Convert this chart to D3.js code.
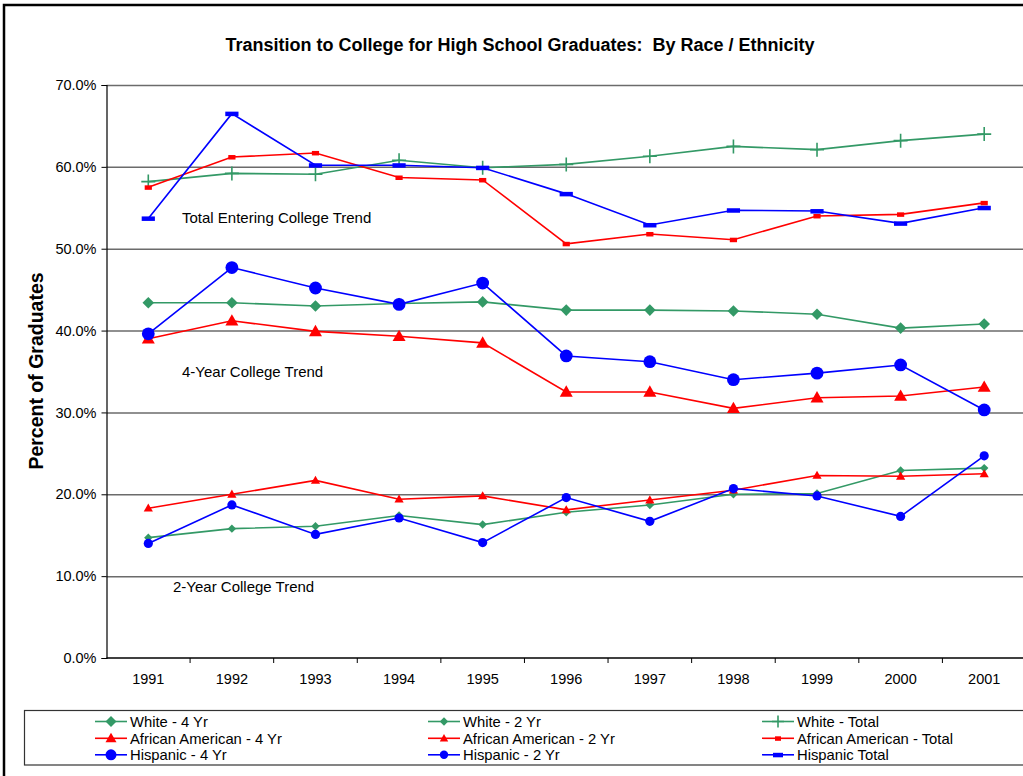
<!DOCTYPE html>
<html>
<head>
<meta charset="utf-8">
<script src="https://cdn.jsdelivr.net/npm/d3@7"></script>
<style>
  html, body { margin: 0; padding: 0; background: #fff; }
  svg { display: block; font-family: "Liberation Sans", Arial, sans-serif; }
</style>
</head>
<body>
<svg id="chart" width="1023" height="776"></svg>
<script>
// Categories and series values (percent of graduates)
const years = ["1991","1992","1993","1994","1995","1996","1997","1998","1999","2000","2001"];

const white4 = [43.4, 43.4, 43.0, 43.3, 43.5, 42.5, 42.5, 42.4, 42.0, 40.3, 40.8];
const white2 = [14.7, 15.8, 16.1, 17.4, 16.3, 17.8, 18.7, 20.0, 20.1, 22.9, 23.2];
const whiteTotal = [58.2, 59.2, 59.1, 60.8, 59.9, 60.3, 61.3, 62.5, 62.1, 63.2, 64.0];
const afam4 = [39.0, 41.2, 39.9, 39.3, 38.5, 32.5, 32.5, 30.5, 31.8, 32.0, 33.1];
const afam2 = [18.3, 20.0, 21.7, 19.4, 19.8, 18.1, 19.3, 20.5, 22.3, 22.2, 22.5];
const afamTotal = [57.5, 61.2, 61.7, 58.7, 58.4, 50.6, 51.8, 51.1, 54.0, 54.2, 55.6];
const hisp4 = [39.6, 47.7, 45.2, 43.2, 45.8, 36.9, 36.2, 34.0, 34.8, 35.8, 30.3];
const hisp2 = [14.0, 18.7, 15.1, 17.1, 14.1, 19.6, 16.7, 20.7, 19.8, 17.3, 24.7];
const hispTotal = [53.7, 66.5, 60.2, 60.2, 59.9, 56.7, 52.9, 54.7, 54.6, 53.1, 55.0];

const yTicks = [0, 10, 20, 30, 40, 50, 60, 70];

const seriesNames = [
  "White - 4 Yr", "White - 2 Yr", "White - Total",
  "African American - 4 Yr", "African American - 2 Yr", "African American - Total",
  "Hispanic - 4 Yr", "Hispanic - 2 Yr", "Hispanic Total"
];

const GREEN = "#339966", RED = "#ff0000", BLUE = "#0000ff";

const series = [
  { name: seriesNames[0], values: white4,     color: GREEN, marker: "diamond",  size: 5.8 },
  { name: seriesNames[1], values: white2,     color: GREEN, marker: "diamond",  size: 4.2 },
  { name: seriesNames[2], values: whiteTotal, color: GREEN, marker: "plus",     size: 7 },
  { name: seriesNames[3], values: afam4,      color: RED,   marker: "triangle", size: 6.5 },
  { name: seriesNames[4], values: afam2,      color: RED,   marker: "triangle", size: 4.6 },
  { name: seriesNames[5], values: afamTotal,  color: RED,   marker: "rect",     size: 3.6 },
  { name: seriesNames[6], values: hisp4,      color: BLUE,  marker: "circle",   size: 6.4 },
  { name: seriesNames[7], values: hisp2,      color: BLUE,  marker: "circle",   size: 4.6 },
  { name: seriesNames[8], values: hispTotal,  color: BLUE,  marker: "rect",     size: 6.6 }
];

const svg = d3.select("#chart");

// Chart frame
svg.append("rect")
  .attr("x", 4).attr("y", 5).attr("width", 1100).attr("height", 900)
  .attr("fill", "none").attr("stroke", "#000").attr("stroke-width", 2.5);

const plot = { left: 106.5, right: 1026, top: 85, bottom: 658 };

const x = d3.scaleBand().domain(years).range([plot.left, plot.right]).padding(0);
const y = d3.scaleLinear().domain([0, 70]).range([plot.bottom, plot.top]);
const cx = d => x(d) + x.bandwidth() / 2;

// Title
svg.append("text")
  .attr("x", 520).attr("y", 51)
  .attr("text-anchor", "middle")
  .attr("font-size", 18).attr("font-weight", "bold")
  .attr("fill", "#000")
  .style("white-space", "pre")
  .text("Transition to College for High School Graduates:  By Race / Ethnicity");

// Horizontal gridlines
svg.append("g")
  .attr("transform", `translate(${plot.left},0)`)
  .call(d3.axisLeft(y).tickValues(yTicks.slice(1)).tickSize(-(plot.right - plot.left)).tickFormat(""))
  .call(g => g.select(".domain").remove())
  .call(g => g.selectAll("line").attr("stroke", "#6b6b6b").attr("stroke-width", 1.5));

// Y axis
svg.append("g")
  .attr("transform", `translate(${plot.left},0)`)
  .call(d3.axisLeft(y).tickValues(yTicks).tickSize(5).tickPadding(5)
    .tickFormat(d => d3.format(".1f")(d) + "%"))
  .call(g => g.select(".domain").attr("stroke", "#000").attr("stroke-width", 1.2))
  .call(g => g.selectAll("line").attr("stroke", "#000"))
  .call(g => g.selectAll("text").attr("font-size", 14.5).attr("fill", "#000")
    .attr("font-family", "'Liberation Sans', Arial, sans-serif"));

// X axis: labels centred in each band, tick marks on band edges
const xAxis = svg.append("g").attr("transform", `translate(0,${plot.bottom})`);
xAxis.append("line")
  .attr("x1", plot.left).attr("x2", plot.right)
  .attr("stroke", "#000").attr("stroke-width", 1.5);
xAxis.selectAll("line.tick")
  .data(years)
  .join("line").attr("class", "tick")
  .attr("x1", d => x(d) + x.bandwidth()).attr("x2", d => x(d) + x.bandwidth())
  .attr("y1", 0).attr("y2", 5).attr("stroke", "#000");
xAxis.selectAll("text")
  .data(years)
  .join("text")
  .attr("x", d => cx(d)).attr("y", 26)
  .attr("text-anchor", "middle").attr("font-size", 14.5).attr("fill", "#000")
  .text(d => d);

// Y axis title
svg.append("text")
  .attr("transform", `translate(43,371) rotate(-90)`)
  .attr("text-anchor", "middle")
  .attr("font-size", 19.5).attr("font-weight", "bold").attr("fill", "#000")
  .text("Percent of Graduates");

// Trend annotations
const notes = [
  { text: "Total Entering College Trend", x: 182, y: 223 },
  { text: "4-Year College Trend", x: 182, y: 377 },
  { text: "2-Year College Trend", x: 173, y: 592 }
];
svg.selectAll("text.note")
  .data(notes)
  .join("text").attr("class", "note")
  .attr("x", d => d.x).attr("y", d => d.y)
  .attr("font-size", 15).attr("fill", "#000")
  .text(d => d.text);

// Marker drawing
function drawMarker(g, type, s, color) {
  if (type === "diamond") {
    g.append("path").attr("d", `M0,${-s}L${s},0L0,${s}L${-s},0Z`).attr("fill", color);
  } else if (type === "triangle") {
    const h = s * 1.75;
    g.append("path").attr("d", `M0,${-h * 0.58}L${s},${h * 0.42}L${-s},${h * 0.42}Z`).attr("fill", color);
  } else if (type === "circle") {
    g.append("circle").attr("r", s).attr("fill", color);
  } else if (type === "plus") {
    g.append("path").attr("d", `M${-s},0H${s}M0,${-s}V${s}`)
      .attr("stroke", color).attr("stroke-width", 1.6).attr("fill", "none");
  } else if (type === "rect") {
    g.append("rect").attr("x", -s).attr("y", -2).attr("width", 2 * s).attr("height", 4.5).attr("fill", color);
  }
}

const line = d3.line().x(d => cx(d.year)).y(d => y(d.value));

series.forEach(s => {
  const pts = years.map((yr, i) => ({ year: yr, value: s.values[i] }));
  const g = svg.append("g");
  g.append("path")
    .datum(pts)
    .attr("d", line)
    .attr("fill", "none").attr("stroke", s.color).attr("stroke-width", 1.6);
  g.selectAll("g.pt")
    .data(pts)
    .join("g").attr("class", "pt")
    .attr("transform", d => `translate(${cx(d.year)},${y(d.value)})`)
    .each(function () { drawMarker(d3.select(this), s.marker, s.size, s.color); });
});

// Legend
const legend = svg.append("g");
legend.append("rect")
  .attr("x", 24.5).attr("y", 710.5).attr("width", 1100).attr("height", 54.5)
  .attr("fill", "#fff").attr("stroke", "#333").attr("stroke-width", 1.2);

const colX = [95, 428, 762];
const rowY = [721.5, 738.3, 754.8];
series.forEach((s, i) => {
  const col = i % 3, row = Math.floor(i / 3);
  const gx = colX[col], gy = rowY[row];
  const item = legend.append("g").attr("transform", `translate(${gx},${gy})`);
  item.append("line").attr("x1", 0).attr("x2", 32).attr("y1", 0).attr("y2", 0)
    .attr("stroke", s.color).attr("stroke-width", 1.6);
  const m = item.append("g").attr("transform", "translate(16,0)");
  const legendSize = s.marker === "rect" ? (s.size > 4 ? 5 : 3) :
                     s.marker === "plus" ? 6 : Math.min(s.size, col === 0 ? 5.5 : 4.2);
  drawMarker(m, s.marker, legendSize, s.color);
  item.append("text")
    .attr("x", 35).attr("y", 0).attr("dy", "0.36em")
    .attr("font-size", 14.8).attr("fill", "#000")
    .text(s.name);
});
</script>
</body>
</html>
